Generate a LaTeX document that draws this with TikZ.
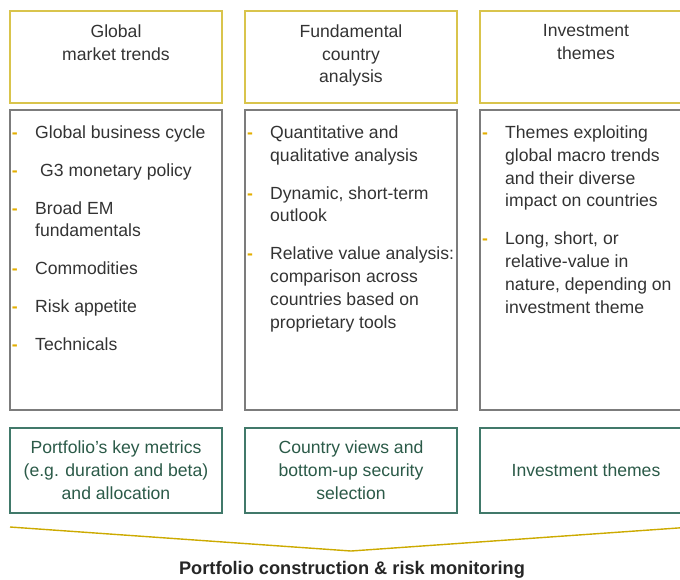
\documentclass[tikz,border=0pt]{standalone}
\usepackage{fontspec}
\setmainfont{Liberation Sans}
\usetikzlibrary{positioning}
\definecolor{trendgold}{HTML}{D9C44C}
\definecolor{bracegold}{HTML}{CCAA00}
\definecolor{dashgold}{HTML}{E3AE00}
\definecolor{framegrey}{HTML}{7C7C7C}
\definecolor{viewgreen}{HTML}{41796A}
\definecolor{viewtext}{HTML}{2B5A48}
\definecolor{bodytext}{HTML}{333333}
\newcommand{\boxfont}{\fontsize{17.6}{22.8}\selectfont}
\newcommand{\dl}{\textcolor{dashgold}{\bfseries -}}

\begin{document}
\begin{tikzpicture}[x=1pt,y=-1pt,
	topbox/.style={draw=trendgold,line width=1.4pt,minimum width=212pt,minimum height=92pt,inner sep=0pt},
	midbox/.style={draw=framegrey,line width=1.4pt,minimum width=212pt,minimum height=300pt,inner sep=0pt},
	viewbox/.style={draw=viewgreen,line width=1.4pt,minimum width=212pt,minimum height=85pt,inner sep=0pt,
		text=viewtext,align=center,font=\boxfont},
	headtext/.style={align=center,inner sep=0pt,text=bodytext,font=\boxfont},
	listtext/.style={inner sep=0pt,text=bodytext,font=\boxfont}]
	\useasboundingbox (0,0) rectangle (680,579);
	\clip (0,0) rectangle (680,579);

	% headings
	\node[topbox] (trends) at (116,57) {};
	\node[topbox] (country) at (351,57) {};
	\node[topbox] (themes) at (586,57) {};
	\node[headtext, below=14pt of trends.north] (trendshead) {Global\\market trends};
	\node[headtext, below=14pt of country.north] (countryhead) {Fundamental\\country\\analysis};
	\node[headtext, below=14pt of themes.north] (themeshead) {Investment\\themes};

	% bullet lists
	\node[midbox, below=5.6pt of trends] (trendsbody) {};
	\node[midbox, below=5.6pt of country] (countrybody) {};
	\node[midbox, below=5.6pt of themes] (themesbody) {};
	\node[listtext, below right=13pt and 2.5pt of trendsbody.north west] (trendslist) {%
		\begin{tabular}{@{}p{23.2pt}@{}l@{}}
			\dl & Global business cycle\\[15pt]
			\dl & \hspace{5pt}G3 monetary policy\\[15pt]
			\dl & Broad EM\\
			    & fundamentals\\[15pt]
			\dl & Commodities\\[15pt]
			\dl & Risk appetite\\[15pt]
			\dl & Technicals
		\end{tabular}};
	\node[listtext, below right=13pt and 2.5pt of countrybody.north west] (countrylist) {%
		\begin{tabular}{@{}p{23.2pt}@{}l@{}}
			\dl & Quantitative and\\
			    & qualitative analysis\\[15pt]
			\dl & Dynamic, short-term\\
			    & outlook\\[15pt]
			\dl & Relative value analysis:\\
			    & comparison across\\
			    & countries based on\\
			    & proprietary tools
		\end{tabular}};
	\node[listtext, below right=13pt and 2.5pt of themesbody.north west] (themeslist) {%
		\begin{tabular}{@{}p{23.2pt}@{}l@{}}
			\dl & Themes exploiting\\
			    & global macro trends\\
			    & and their diverse\\
			    & impact on countries\\[15pt]
			\dl & Long, short, or\\
			    & relative-value in\\
			    & nature, depending on\\
			    & investment theme
		\end{tabular}};

	% outcomes
	\node[viewbox, below=16.6pt of trendsbody] (trendsview) {Portfolio's key metrics\\(e.g. duration and beta)\\and allocation};
	\node[viewbox, below=16.6pt of countrybody] (countryview) {Country views and\\bottom-up security\\selection};
	\node[viewbox, below=16.6pt of themesbody] (themesview) {Investment themes};

	% bracket
	\coordinate (bl) at (10,527);
	\coordinate (bm) at (351,551);
	\coordinate (br) at (692,527);
	\draw[bracegold,line width=1.4pt] (bl) -- (bm) -- (br);
	\node[font=\fontsize{18.2}{21}\selectfont\bfseries,text=black!85,anchor=base,inner sep=0pt] (portfolio) at (352,574.5)
		{Portfolio construction \& risk monitoring};
\end{tikzpicture}
\end{document}
